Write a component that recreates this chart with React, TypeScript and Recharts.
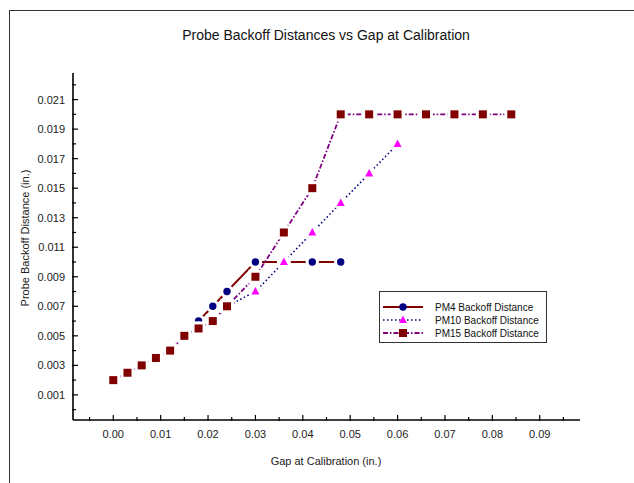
import React from 'react';
import {LineChart, Line, XAxis, YAxis, Legend} from 'recharts';

// values
const pm4Gap = [0.018, 0.021, 0.024, 0.03, 0.036, 0.042, 0.048];
const pm4Dist = [0.006, 0.007, 0.008, 0.01, 0.01, 0.01, 0.01];

const pm10Gap = [0, 0.003, 0.006, 0.009, 0.012, 0.015, 0.018, 0.021, 0.024, 0.03, 0.036, 0.042, 0.048, 0.054, 0.06];
const pm10Dist = [0.002, 0.0025, 0.003, 0.0035, 0.004, 0.005, 0.0055, 0.006, 0.007, 0.008, 0.01, 0.012, 0.014, 0.016, 0.018];

const pm15Gap = [0, 0.003, 0.006, 0.009, 0.012, 0.015, 0.018, 0.021, 0.024, 0.03, 0.036, 0.042, 0.048, 0.054, 0.06, 0.066, 0.072, 0.078, 0.084];
const pm15Dist = [0.002, 0.0025, 0.003, 0.0035, 0.004, 0.005, 0.0055, 0.006, 0.007, 0.009, 0.012, 0.015, 0.02, 0.02, 0.02, 0.02, 0.02, 0.02, 0.02];

const xTicks = [-0.005, 0, 0.005, 0.01, 0.015, 0.02, 0.025, 0.03, 0.035, 0.04, 0.045, 0.05, 0.055, 0.06, 0.065, 0.07, 0.075, 0.08, 0.085, 0.09, 0.095];
const yTicks = [0, 0.001, 0.002, 0.003, 0.004, 0.005, 0.006, 0.007, 0.008, 0.009, 0.01, 0.011, 0.012, 0.013, 0.014, 0.015, 0.016, 0.017, 0.018, 0.019, 0.02, 0.021, 0.022];

const zip = (xs: number[], ys: number[]) => xs.map((x, i) => ({x, y: ys[i]}));

type MarkerKind = 'circle' | 'triangle' | 'square';

const series = [
  {name: 'PM4 Backoff Distance', data: zip(pm4Gap, pm4Dist), stroke: '#800000', dash: undefined, width: 2, marker: 'circle' as MarkerKind, markerFill: '#000080'},
  {name: 'PM10 Backoff Distance', data: zip(pm10Gap, pm10Dist), stroke: '#000080', dash: '1.5 2.5', width: 1.6, marker: 'triangle' as MarkerKind, markerFill: '#FF00FF'},
  {name: 'PM15 Backoff Distance', data: zip(pm15Gap, pm15Dist), stroke: '#800080', dash: '5 2 1.5 2', width: 1.8, marker: 'square' as MarkerKind, markerFill: '#800000'},
];

const FONT = '"Liberation Sans", Arial, sans-serif';
const HALO = 3;

const Marker = ({cx, cy, kind, fill, halo = HALO}: {cx: number; cy: number; kind: MarkerKind; fill: string; halo?: number}) => {
  if (cx == null || cy == null) return null;
  if (kind === 'circle') {
    return (
      <g>
        {halo > 0 && <circle cx={cx} cy={cy} r={3.7 + halo} fill="#fff" />}
        <circle cx={cx} cy={cy} r={3.7} fill={fill} />
      </g>
    );
  }
  if (kind === 'square') {
    return (
      <g>
        {halo > 0 && <rect x={cx - 4 - halo} y={cy - 4 - halo} width={8 + 2 * halo} height={8 + 2 * halo} fill="#fff" />}
        <rect x={cx - 4} y={cy - 4} width={8} height={8} fill={fill} />
      </g>
    );
  }
  return (
    <g>
      {halo > 0 && <circle cx={cx} cy={cy} r={4 + halo} fill="#fff" />}
      <polygon points={`${cx},${cy - 4.5} ${cx - 4},${cy + 3} ${cx + 4},${cy + 3}`} fill={fill} />
    </g>
  );
};

const XTick = (props: any) => {
  const {x, y, payload} = props;
  const v = payload.value;
  const major = Math.abs(v * 100 - Math.round(v * 100)) < 1e-6;
  return (
    <g>
      <line x1={x} x2={x} y1={y + 1} y2={y - (major ? 5 : 3)} stroke="#000" strokeWidth={1.2} />
      {major && (
        <text x={x} y={y + 18} textAnchor="middle" fontSize={11} fontFamily={FONT} fill="#222">
          {v.toFixed(2)}
        </text>
      )}
    </g>
  );
};

const YTick = (props: any) => {
  const {x, y, payload} = props;
  const v = payload.value;
  const major = Math.round(v * 1000) % 2 === 1;
  return (
    <g>
      <line x1={x - 1} x2={x + (major ? 5 : 3)} y1={y} y2={y} stroke="#000" strokeWidth={1.2} />
      {major && (
        <text x={x - 8} y={y + 4} textAnchor="end" fontSize={11} fontFamily={FONT} fill="#222">
          {v.toFixed(3)}
        </text>
      )}
    </g>
  );
};

const LegendBox = () => (
  <svg width={169} height={53} style={{display: 'block'}}>
    <rect x={0.5} y={0.5} width={167} height={51} fill="#fff" stroke="#333" />
    {series.map((s, i) => {
      const cy = 16 + i * 13;
      return (
        <g key={s.name}>
          <line x1={4} x2={44} y1={cy} y2={cy} stroke={s.stroke} strokeWidth={s.width} strokeDasharray={s.dash} />
          <Marker cx={24} cy={cy} kind={s.marker} fill={s.markerFill} halo={0} />
          <text x={56} y={cy + 3.5} fontSize={10} fontFamily={FONT} fill="#111">
            {s.name}
          </text>
        </g>
      );
    })}
  </svg>
);

export default function App() {
  return (
    <div style={{position: 'fixed', left: 0, top: 0, width: 634, height: 483, overflow: 'hidden', background: '#fff', fontFamily: FONT}}>
      <div style={{position: 'absolute', left: 9, top: 10, width: 700, height: 600, border: '1px solid #333'}} />
      <div style={{position: 'absolute', left: 0, top: 0}}>
        <LineChart width={634} height={483} margin={{top: 73, right: 54, bottom: 33, left: 0}}>
          <XAxis
            type="number"
            dataKey="x"
            domain={[-0.0085, 0.0985]}
            allowDataOverflow
            ticks={xTicks}
            interval={0}
            tickSize={0}
            tickMargin={0}
            tickLine={false}
            tick={<XTick />}
            height={30}
            axisLine={{stroke: '#000', strokeWidth: 1.6}}
          />
          <YAxis
            type="number"
            dataKey="y"
            domain={[-0.0007, 0.0228]}
            allowDataOverflow
            ticks={yTicks}
            interval={0}
            tickSize={0}
            tickMargin={0}
            tickLine={false}
            tick={<YTick />}
            width={73}
            axisLine={{stroke: '#000', strokeWidth: 1.6}}
          />
          {series.map((s) => (
            <Line
              key={s.name}
              data={s.data}
              dataKey="y"
              name={s.name}
              type="linear"
              stroke={s.stroke}
              strokeWidth={s.width}
              strokeDasharray={s.dash}
              isAnimationActive={false}
              activeDot={false}
              dot={(p: any) => <Marker key={`${s.name}-${p.index}`} cx={p.cx} cy={p.cy} kind={s.marker} fill={s.markerFill} />}
            />
          ))}
          <Legend
            layout="vertical"
            align="center"
            verticalAlign="middle"
            content={() => <LegendBox />}
            wrapperStyle={{position: 'absolute', left: 379, top: 291, width: 169, height: 53}}
          />
        </LineChart>
      </div>
      <div style={{position: 'absolute', left: 0, width: 652, top: 27, textAlign: 'center', fontSize: 14, color: '#111'}}>
        Probe Backoff Distances vs Gap at Calibration
      </div>
      <div style={{position: 'absolute', left: 0, width: 652, top: 455, textAlign: 'center', fontSize: 11, color: '#222'}}>
        Gap at Calibration (in.)
      </div>
      <div
        style={{
          position: 'absolute',
          left: 25,
          top: 238,
          transform: 'translate(-50%, -50%) rotate(-90deg)',
          whiteSpace: 'nowrap',
          fontSize: 11,
          color: '#222',
        }}>
        Probe Backoff Distance (in.)
      </div>
    </div>
  );
}
